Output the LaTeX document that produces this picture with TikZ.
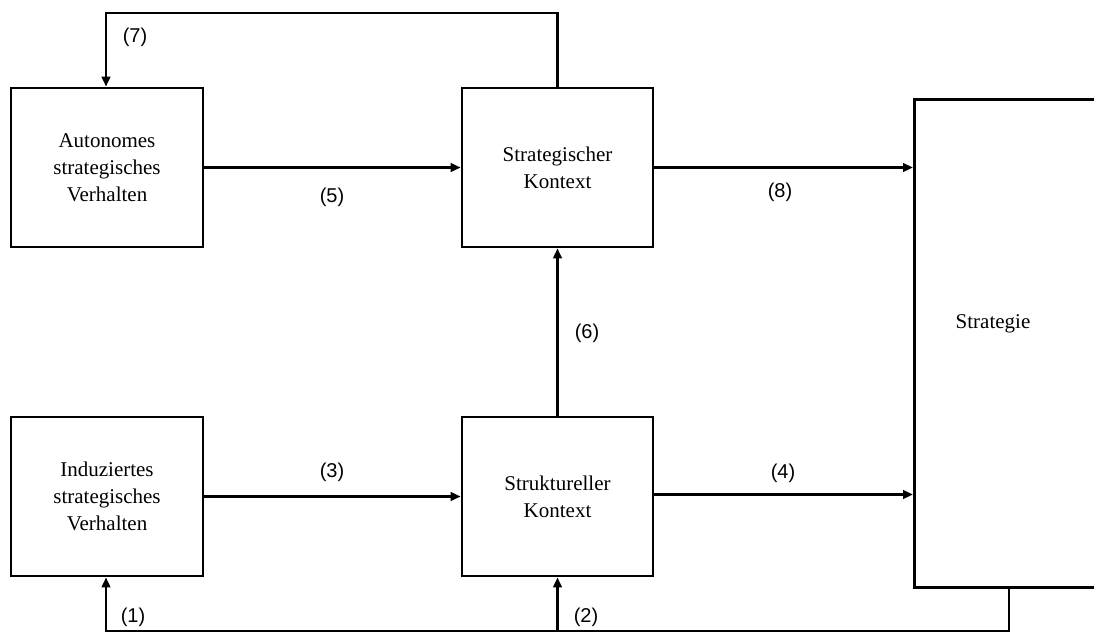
\documentclass[tikz,border=0pt]{standalone}
\usepackage{fontspec}
\setmainfont{Liberation Serif}
\newfontfamily\labfont{Liberation Sans}
\usetikzlibrary{arrows.meta}

\tikzset{
  box/.style={draw, line width=2.7pt, rectangle, align=center,
    font=\fontsize{21}{27}\selectfont},
  txt/.style={align=center, font=\fontsize{21}{27}\selectfont},
  lab/.style={font=\labfont\fontsize{20}{24}\selectfont},
  flow/.style={line width=2.5pt, -{Triangle[length=10pt,width=8.5pt]}},
}

\begin{document}
\begin{tikzpicture}[x=1pt,y=-1pt]
  \useasboundingbox (0,0) rectangle (1094,633);

  % boxes
  \node[box, minimum width=192, minimum height=159] (auto) at (107,167.5)
    {Autonomes\\strategisches\\Verhalten};
  \node[box, minimum width=191, minimum height=159] (strk) at (557.5,167.5)
    {Strategischer\\Kontext};
  \node[box, minimum width=192, minimum height=159] (ind) at (107,496.5)
    {Induziertes\\strategisches\\Verhalten};
  \node[box, minimum width=191, minimum height=159] (struk) at (557.5,496.5)
    {Struktureller\\Kontext};
  \node[box, minimum width=200, minimum height=488, anchor=north west] (strat) at (913,98) {};
  \node[txt] (stratlbl) at (993,324) {Strategie};

  % horizontal flows
  \draw[flow] (auto.east) -- (strk.west);
  \draw[flow] (strk.east) -- (strk.east -| strat.west);
  \draw[flow] (ind.east) -- (struk.west);
  \draw[flow] ([yshift=2pt]struk.east) -- ([yshift=2pt]struk.east -| strat.west);

  % vertical flow
  \draw[flow] (struk.north) -- (strk.south);

  % feedback loop on top
  \coordinate (tl) at (106,13);
  \draw[flow] (strk.north) |- (tl) -- (tl |- auto.north);

  % feedback loop at the bottom
  \coordinate (br) at (1009,631);
  \coordinate (bl) at (106,631);
  \draw[flow] (br |- strat.south) -- (br) -- (bl) -- (bl |- ind.south);
  \draw[flow] (struk.south |- br) -- (struk.south);

  % labels
  \node[lab] (l1) at (133,617) {(1)};
  \node[lab] (l2) at (586,617) {(2)};
  \node[lab] (l3) at (332,472) {(3)};
  \node[lab] (l4) at (783,473) {(4)};
  \node[lab] (l5) at (332,197) {(5)};
  \node[lab] (l6) at (587,333) {(6)};
  \node[lab] (l7) at (135,37) {(7)};
  \node[lab] (l8) at (780,192) {(8)};
\end{tikzpicture}
\end{document}
